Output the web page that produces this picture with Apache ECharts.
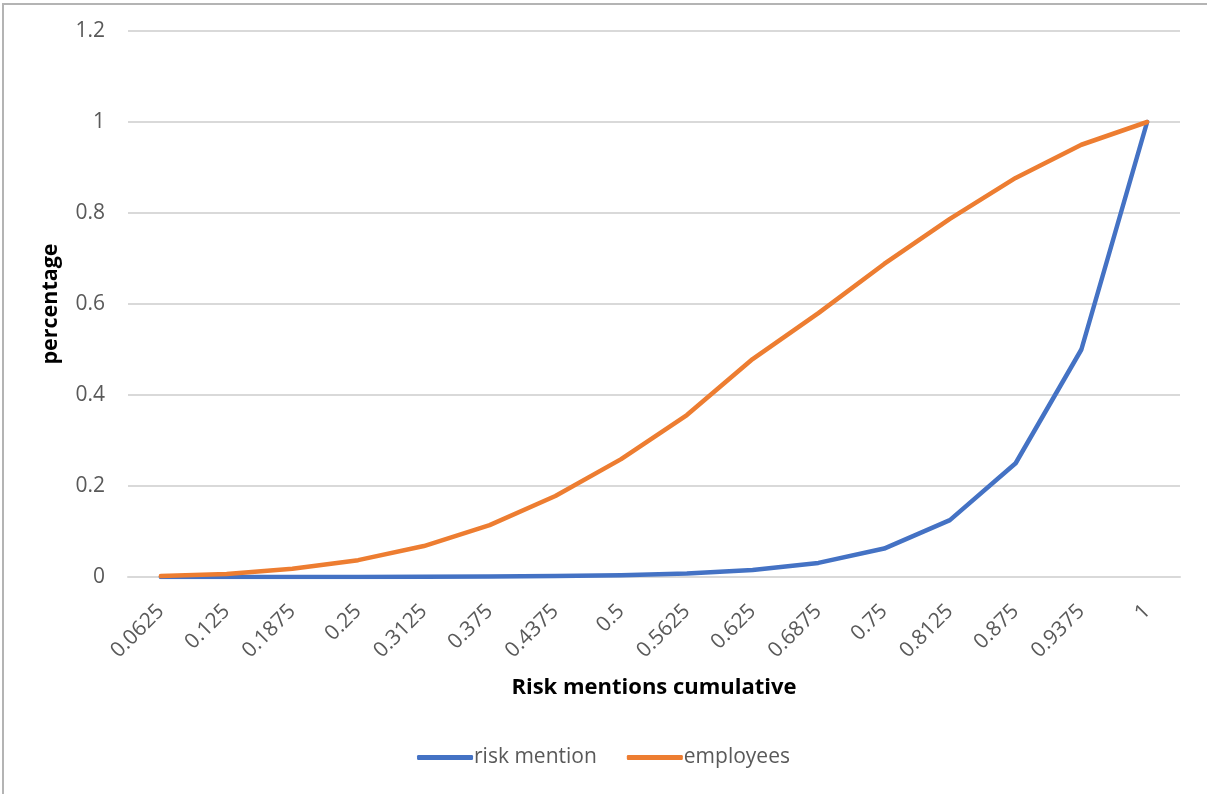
<!DOCTYPE html>
<html>
<head>
<meta charset="utf-8">
<script src="https://cdn.jsdelivr.net/npm/echarts@6/dist/echarts.min.js"></script>
<style>
html,body{margin:0;padding:0;background:#fff;}
#frame{position:absolute;left:2px;top:3px;width:1300px;height:900px;border:2px solid #b4b4b4;box-sizing:border-box;}
#chart{position:absolute;left:0;top:0;width:1207px;height:794px;}
</style>
</head>
<body>
<div id="frame"></div>
<div id="chart"></div>
<script>
const categories = ['0.0625','0.125','0.1875','0.25','0.3125','0.375','0.4375','0.5','0.5625','0.625','0.6875','0.75','0.8125','0.875','0.9375','1'];
const riskMention = [0.00003,0.00006,0.00012,0.00024,0.00049,0.00098,0.00195,0.0039,0.0078,0.0156,0.031,0.0625,0.125,0.25,0.5,1];
const employees = [0.002,0.0066,0.018,0.037,0.068,0.114,0.178,0.259,0.356,0.479,0.58,0.688,0.787,0.877,0.95,1];
const yTicks = [0,0.2,0.4,0.6,0.8,1,1.2];

const FONT = 'Open Sans';
const chart = echarts.init(document.getElementById('chart'));
chart.setOption({
  animation:false,
  textStyle:{fontFamily:FONT},
  grid:{left:128,right:27,top:31,bottom:217,containLabel:false},
  legend:{
    top:742,left:'center',
    itemWidth:56,itemHeight:5,itemGap:30,
    icon:'roundRect',
    textStyle:{fontFamily:FONT,fontSize:21,color:'#595959',padding:[0,0,0,-4]},
    data:['risk mention','employees']
  },
  xAxis:{
    type:'category',data:categories,boundaryGap:true,
    name:'Risk mentions cumulative',nameLocation:'middle',nameGap:100,
    nameTextStyle:{fontFamily:FONT,fontSize:22,fontWeight:'bold',color:'#000'},
    axisLine:{lineStyle:{color:'#d9d9d9',width:2}},
    axisTick:{show:false},
    axisLabel:{rotate:45,margin:31,fontSize:21,color:'#595959',fontFamily:FONT,interval:0}
  },
  yAxis:{
    type:'value',min:0,max:1.2,interval:0.2,
    name:'percentage',nameLocation:'middle',nameGap:66,nameRotate:90,
    nameTextStyle:{fontFamily:FONT,fontSize:21.5,fontWeight:'bold',color:'#000'},
    axisLine:{show:false},axisTick:{show:false},
    splitLine:{lineStyle:{color:'#d9d9d9',width:2}},
    axisLabel:{margin:23,fontSize:21,color:'#595959',fontFamily:FONT,
      formatter:function(v){return String(Math.round(v*10)/10);}}
  },
  series:[
    {name:'risk mention',type:'line',data:riskMention,symbol:'none',
     lineStyle:{color:'#4472C4',width:4.5,cap:'round',join:'round'},itemStyle:{color:'#4472C4'}},
    {name:'employees',type:'line',data:employees,symbol:'none',
     lineStyle:{color:'#ED7D31',width:4.5,cap:'round',join:'round'},itemStyle:{color:'#ED7D31'}}
  ]
});
</script>
</body>
</html>
